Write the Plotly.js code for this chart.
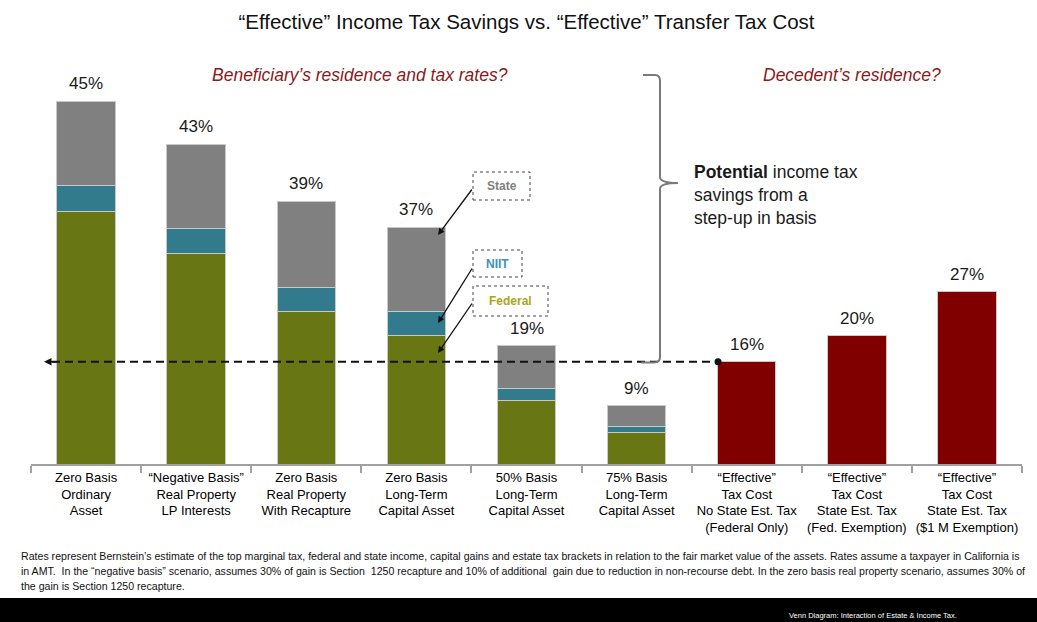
<!DOCTYPE html>
<html>
<head>
<meta charset="utf-8">
<script src="https://cdn.plot.ly/plotly-3.0.1.min.js"></script>
<style>html,body{margin:0;padding:0;background:#fff;}#chart{width:1037px;height:622px;}</style>
</head>
<body>
<div id="chart"></div>
<script>
// ---- data ----
const categories = [
  'Zero Basis<br>Ordinary<br>Asset',
  '“Negative Basis”<br>Real Property<br>LP Interests',
  'Zero Basis<br>Real Property<br>With Recapture',
  'Zero Basis<br>Long-Term<br>Capital Asset',
  '50% Basis<br>Long-Term<br>Capital Asset',
  '75% Basis<br>Long-Term<br>Capital Asset',
  '“Effective”<br>Tax Cost<br>No State Est. Tax<br>(Federal Only)',
  '“Effective”<br>Tax Cost<br>State Est. Tax<br>(Fed. Exemption)',
  '“Effective”<br>Tax Cost<br>State Est. Tax<br>($1 M Exemption)'
];
const federal = [31.3, 26.1, 18.9, 15.9, 7.9, 3.9, null, null, null];
const niit    = [3.3, 3.1, 3.0, 3.0, 1.5, 0.8, null, null, null];
const state   = [10.4, 10.5, 10.7, 10.5, 5.3, 2.5, null, null, null];
const transferCost = [null, null, null, null, null, null, 12.7, 15.9, 21.4];
const totalLabels = ['45%', '43%', '39%', '37%', '19%', '9%', '16%', '20%', '27%'];
const seriesNames = ['Federal', 'NIIT', 'State', 'Effective Transfer Tax Cost'];

const titleText = '“Effective” Income Tax Savings vs. “Effective” Transfer Tax Cost';
const leftQuestion = 'Beneficiary’s residence and tax rates?';
const rightQuestion = 'Decedent’s residence?';
const bracketText = '<b>Potential</b> income tax<br>savings from a<br>step-up in basis';
const footnoteLines = [
  'Rates represent Bernstein’s estimate of the top marginal tax, federal and state income, capital gains and estate tax brackets in relation to the fair market value of the assets. Rates assume a taxpayer in California is',
  'in AMT.  In the “negative basis” scenario, assumes 30% of gain is Section  1250 recapture and 10% of additional  gain due to reduction in non-recourse debt. In the zero basis real property scenario, assumes 30% of',
  'the gain is Section 1250 recapture.'
];
const footerText = 'Venn Diagram: Interaction of Estate &amp; Income Tax.';

// ---- layout helpers ----
const W = 1037, H = 622;
const M = {l: 31, r: 15, t: 61, b: 158};
const PW = W - M.l - M.r, PH = H - M.t - M.b;
const px = x => (x - M.l) / PW;
const py = y => (H - M.b - y) / PH;

const FONT = '"Liberation Sans", Arial, sans-serif';
const C = {fed: '#687614', niit: '#327b8c', state: '#808080', red: '#800000', line: '#c9c9c9'};

const totals = categories.map((c, i) =>
  (federal[i] || 0) + (niit[i] || 0) + (state[i] || 0) + (transferCost[i] || 0));

const barLine = {color: C.line, width: 1};
const traces = [
  {type: 'bar', name: seriesNames[0], x: categories, y: federal, marker: {color: C.fed, line: barLine}},
  {type: 'bar', name: seriesNames[1], x: categories, y: niit, marker: {color: C.niit, line: barLine}},
  {type: 'bar', name: seriesNames[2], x: categories, y: state, marker: {color: C.state, line: barLine}},
  {type: 'bar', name: seriesNames[3], x: categories, y: transferCost, marker: {color: C.red, line: barLine}}
];

const annotations = [];
// value labels above bars
categories.forEach((c, i) => {
  annotations.push({x: c, y: totals[i], xref: 'x', yref: 'y', text: totalLabels[i], showarrow: false,
    xanchor: 'center', yanchor: 'bottom', yshift: 6, font: {family: FONT, size: 17, color: '#1a1a1a'}});
});
// questions
annotations.push({xref: 'paper', yref: 'paper', x: px(360), y: py(75), xanchor: 'center', yanchor: 'middle',
  text: '<i>' + leftQuestion + '</i>', showarrow: false, font: {family: FONT, size: 17.5, color: '#8b1a1a'}});
annotations.push({xref: 'paper', yref: 'paper', x: px(852), y: py(75), xanchor: 'center', yanchor: 'middle',
  text: '<i>' + rightQuestion + '</i>', showarrow: false, font: {family: FONT, size: 17.5, color: '#8b1a1a'}});
// bracket text
annotations.push({xref: 'paper', yref: 'paper', x: px(692), y: py(195), xanchor: 'left', yanchor: 'middle', align: 'left',
  text: bracketText, showarrow: false, font: {family: FONT, size: 17.5, color: '#1a1a1a'}});

// callout boxes
const callouts = [
  {name: seriesNames[2], box: [473, 172, 530, 200], color: '#7f7f7f', tail: [473, 188], head: [438, 235]},
  {name: seriesNames[1], box: [473, 250, 522, 277], color: '#3b93b5', tail: [473, 267], head: [438, 323]},
  {name: seriesNames[0], box: [473, 286, 548, 316], color: '#a6a81a', tail: [473, 302], head: [438, 353]}
];
const shapes = [];
callouts.forEach(cb => {
  shapes.push({type: 'rect', xref: 'paper', yref: 'paper', x0: px(cb.box[0]), x1: px(cb.box[2]),
    y0: py(cb.box[3]), y1: py(cb.box[1]), line: {color: '#444', width: 1, dash: 'dot'}, fillcolor: '#fff'});
  annotations.push({xref: 'paper', yref: 'paper', x: px((cb.box[0] + cb.box[2]) / 2), y: py((cb.box[1] + cb.box[3]) / 2),
    xanchor: 'center', yanchor: 'middle',
    text: '<b>' + cb.name + '</b>', showarrow: false, font: {family: FONT, size: 12, color: cb.color}});
  annotations.push({xref: 'paper', yref: 'paper', x: px(cb.head[0]), y: py(cb.head[1]), text: '',
    showarrow: true, arrowhead: 2, arrowsize: 1, arrowwidth: 1.3, arrowcolor: '#111',
    ax: cb.tail[0] - cb.head[0], ay: cb.tail[1] - cb.head[1]});
});

// dashed reference line at the first transfer-tax bar level
const refY = transferCost[6];
shapes.push({type: 'line', xref: 'paper', yref: 'y', x0: px(52), x1: px(718), y0: refY, y1: refY,
  line: {color: '#111', width: 2, dash: '8px,5px'}});
annotations.push({xref: 'paper', yref: 'y', x: px(44), y: refY, text: '', showarrow: true, arrowhead: 2,
  arrowsize: 1, arrowwidth: 1.5, arrowcolor: '#111', ax: 14, ay: 0});
shapes.push({type: 'circle', xref: 'paper', yref: 'y', xsizemode: 'pixel', ysizemode: 'pixel',
  xanchor: px(718), yanchor: refY, x0: -3.5, x1: 3.5, y0: -3.5, y1: 3.5, fillcolor: '#111', line: {width: 0}});

// bracket
const bp = (x, y) => px(x).toFixed(5) + ',' + py(y).toFixed(5);
shapes.push({type: 'path', xref: 'paper', yref: 'paper',
  path: 'M' + bp(643, 75) + ' L' + bp(655, 75) + ' Q' + bp(660, 75) + ' ' + bp(660, 81) +
        ' L' + bp(660, 177) + ' Q' + bp(660, 183) + ' ' + bp(678, 183) +
        ' Q' + bp(660, 183) + ' ' + bp(660, 189) +
        ' L' + bp(660, 357) + ' Q' + bp(660, 362.5) + ' ' + bp(654, 362.5) + ' L' + bp(641, 362.5),
  line: {color: '#7a7a7a', width: 2}});

// footnote
footnoteLines.forEach((t, i) => {
  annotations.push({xref: 'paper', yref: 'paper', x: px(19), y: py(556 + i * 15), xanchor: 'left', yanchor: 'middle',
    text: t, showarrow: false, font: {family: FONT, size: 10.6, color: '#111'}});
});
// bottom black band
shapes.push({type: 'rect', xref: 'paper', yref: 'paper', x0: px(0), x1: px(W), y0: py(H), y1: py(598),
  fillcolor: '#000', line: {width: 0}});
annotations.push({xref: 'paper', yref: 'paper', x: px(787), y: py(615), xanchor: 'left', yanchor: 'middle',
  text: footerText, showarrow: false, font: {family: FONT, size: 7.5, color: '#fff'}});

const layout = {
  width: W, height: H,
  margin: M,
  paper_bgcolor: '#fff', plot_bgcolor: '#fff',
  barmode: 'stack', bargap: 0.47,
  showlegend: false,
  hovermode: false,
  title: {text: titleText, x: 0.5, xref: 'paper', xanchor: 'center', y: 1 - 22 / H, yanchor: 'middle',
    font: {family: FONT, size: 20.5, color: '#111'}},
  xaxis: {type: 'category', showline: true, linecolor: '#a0a0a0', linewidth: 2, ticks: 'outside',
    tickson: 'boundaries', ticklen: 7, tickwidth: 2, tickcolor: '#a0a0a0', showgrid: false, zeroline: false,
    tickangle: 0, tickfont: {family: FONT, size: 13, color: '#000'}, fixedrange: true},
  yaxis: {range: [0, 50], visible: false, fixedrange: true},
  shapes: shapes,
  annotations: annotations
};

Plotly.newPlot('chart', traces, layout, {displayModeBar: false, staticPlot: true});
</script>
</body>
</html>
